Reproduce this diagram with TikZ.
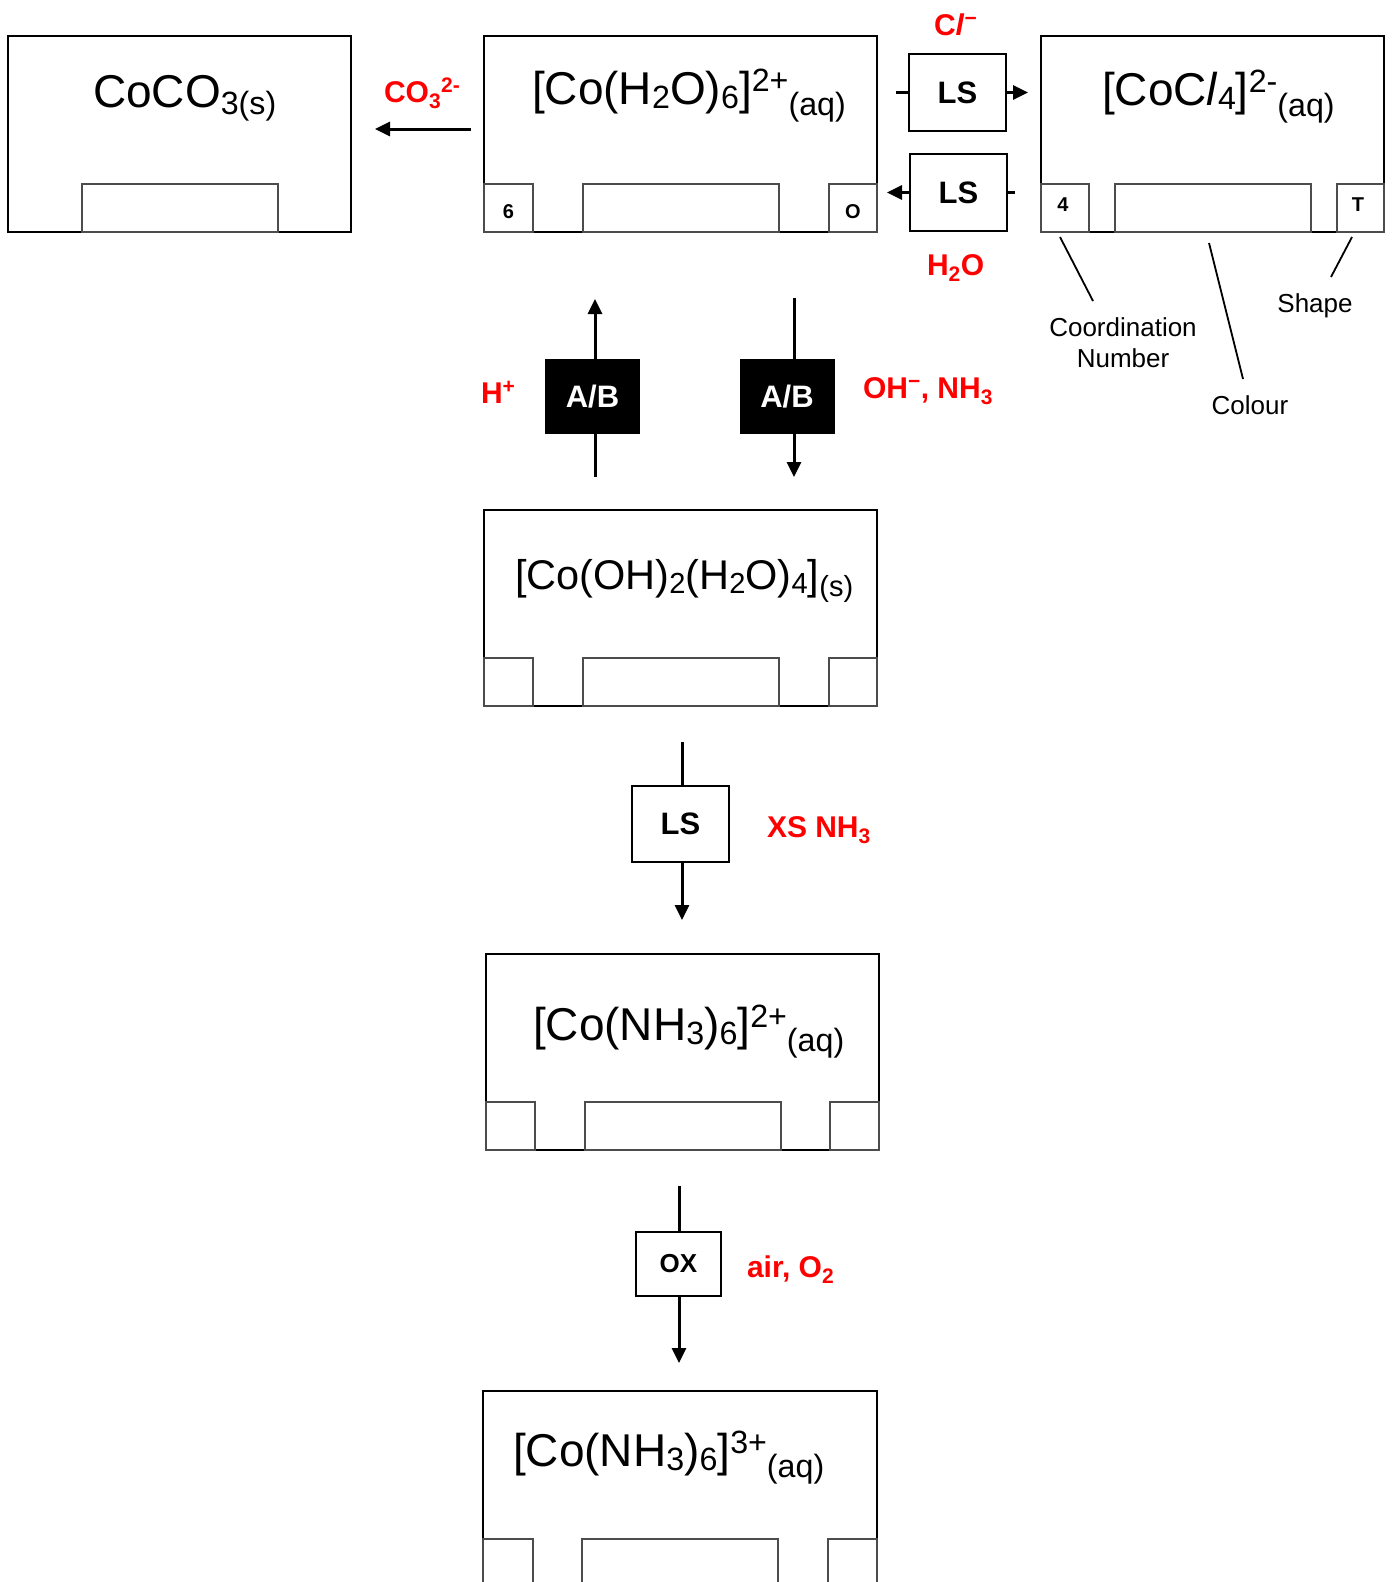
\documentclass[tikz,border=0pt]{standalone}
\usepackage{fontspec}
\setmainfont{Liberation Sans}
\usetikzlibrary{arrows.meta}
\newcommand\sbs[2][0.1]{\raisebox{-#1em}{\scalebox{0.7}{#2}}}
\newcommand\sps[2][0.28]{\raisebox{#1em}{\scalebox{0.7}{#2}}}
\tikzset{
  bigbox/.style={draw=black, line width=1.3pt, inner sep=0pt, outer sep=0pt, minimum height=196pt},
  inbox/.style={draw=black!70, line width=1.3pt, inner sep=0pt, outer sep=0pt, minimum height=48pt},
  formula/.style={inner sep=0pt, outer sep=0pt, font=\fontsize{46}{55}\selectfont},
  redlab/.style={inner sep=0pt, outer sep=0pt, text=red, font=\bfseries\fontsize{30}{36}\selectfont},
  lsbox/.style={draw=black, line width=2pt, inner sep=0pt, outer sep=0pt, fill=white, font=\bfseries\fontsize{31}{36}\selectfont},
  abbox/.style={fill=black, text=white, inner sep=0pt, outer sep=0pt, minimum width=95pt, minimum height=75pt, font=\bfseries\fontsize{31}{36}\selectfont},
  smalllab/.style={inner sep=0pt, outer sep=0pt, font=\bfseries\fontsize{20}{24}\selectfont},
  annot/.style={inner sep=0pt, outer sep=0pt, font=\fontsize{26}{31}\selectfont},
  conn/.style={line width=3pt, draw=black},
  tip/.style={-{Triangle[length=15pt,width=14pt]}},
  leader/.style={line width=1.8pt, draw=black}
}
\begin{document}
\begin{tikzpicture}[x=1pt,y=-1pt]
\clip (0,0) rectangle (1393,1582);
\fill[white] (0,0) rectangle (1393,1582);

% ---- CoCO3 ----
\node[bigbox, minimum width=343pt] (coco3) at (179.5,134) {};
\node[inbox, minimum width=196pt] (coco3c) at (180,208) {};
\node[formula, anchor=base west] (coco3t) at (93,107) {CoCO\sbs[0.17]{3(s)}};

% ---- [Co(H2O)6]2+ ----
\node[bigbox, minimum width=393pt] (h2o) at (680.5,134) {};
\node[inbox, minimum width=49pt] (h2oa) at (508.5,208) {};
\node[inbox, minimum width=196pt] (h2ob) at (681,208) {};
\node[inbox, minimum width=48pt] (h2oc) at (853,208) {};
\node[smalllab] (h2oal) at (508.5,212) {6};
\node[smalllab] (h2ocl) at (853,212) {O};
\node[formula, anchor=base west] (h2ot) at (532,104) {[Co(H\sbs{2}O)\sbs{6}]\sps{2+}\sbs[0.26]{(aq)}};

% ---- [CoCl4]2- ----
\node[bigbox, minimum width=343pt] (cocl4) at (1212.5,134) {};
\node[inbox, minimum width=48pt] (cocl4a) at (1065,208) {};
\node[inbox, minimum width=196pt] (cocl4b) at (1213,208) {};
\node[inbox, minimum width=47pt] (cocl4c) at (1360.5,208) {};
\node[smalllab] (cocl4al) at (1063,205) {4};
\node[smalllab] (cocl4cl) at (1358,205) {T};
\node[formula, anchor=base west] (cocl4t) at (1102,105) {[CoC\textit{l}\sbs{4}]\sps{2-}\sbs[0.26]{(aq)}};

% ---- [Co(OH)2(H2O)4] ----
\node[bigbox, minimum width=393pt] (oh) at (680.5,608) {};
\node[inbox, minimum width=49pt] (oha) at (508.5,682) {};
\node[inbox, minimum width=196pt] (ohb) at (681,682) {};
\node[inbox, minimum width=48pt] (ohc) at (853,682) {};
\node[formula, font=\fontsize{41.5}{50}\selectfont, anchor=base west] (oht) at (515,589) {[Co(OH)\sbs{2}(H\sbs{2}O)\sbs{4}]\sbs[0.18]{(s)}};

% ---- [Co(NH3)6]2+ ----
\node[bigbox, minimum width=393pt] (nha) at (682.5,1052) {};
\node[inbox, minimum width=49pt] (nhaa) at (510.5,1126) {};
\node[inbox, minimum width=196pt] (nhab) at (683,1126) {};
\node[inbox, minimum width=49pt] (nhac) at (854.5,1126) {};
\node[formula, anchor=base west] (nhat) at (533,1040) {[Co(NH\sbs{3})\sbs{6}]\sps{2+}\sbs[0.26]{(aq)}};

% ---- [Co(NH3)6]3+ ----
\node[bigbox, minimum width=394pt] (nhb) at (680,1489) {};
\node[inbox, minimum width=50pt] (nhba) at (508,1563) {};
\node[inbox, minimum width=196pt] (nhbb) at (680,1563) {};
\node[inbox, minimum width=49pt] (nhbc) at (852.5,1563) {};
\node[formula, anchor=base west] (nhbt) at (513,1466) {[Co(NH\sbs{3})\sbs{6}]\sps{3+}\sbs[0.26]{(aq)}};

% ---- CO3 arrow ----
\coordinate (co3s) at (471,129);
\coordinate (co3e) at (375,129);
\draw[conn, tip] (co3s) -- (co3e);
\node[redlab, anchor=base west] (lco3) at (384,102) {CO\textsubscript{3}\textsuperscript{2-}};

% ---- LS (Cl-) ----
\node[lsbox, minimum width=97pt, minimum height=77pt] (ls1) at (957.5,92.5) {LS};
\coordinate (ls1in) at (896,92.5);
\coordinate (ls1out) at (1028,92.5);
\draw[conn] (ls1in) -- (ls1.west);
\draw[conn, tip] (ls1.east) -- (ls1out);
\node[redlab, anchor=base west] (lcl) at (934,35) {C\textit{l}\textsuperscript{−}};

% ---- LS (H2O) ----
\node[lsbox, minimum width=97pt, minimum height=77pt] (ls2) at (958.5,192.5) {LS};
\coordinate (ls2in) at (1015,192.5);
\coordinate (ls2out) at (887,192.5);
\draw[conn] (ls2in) -- (ls2.east);
\draw[conn, tip] (ls2.west) -- (ls2out);
\node[redlab, anchor=base west] (lh2o) at (927,275) {H\textsubscript{2}O};

% ---- A/B up (H+) ----
\node[abbox] (ab1) at (592.5,396.5) {A/B};
\coordinate (ab1in) at (595,477);
\coordinate (ab1out) at (595,299);
\draw[conn] (ab1in) -- (ab1in |- ab1.south);
\draw[conn, tip] (ab1out |- ab1.north) -- (ab1out);
\node[redlab, anchor=base west] (lh) at (481,403) {H\textsuperscript{+}};

% ---- A/B down (OH-, NH3) ----
\node[abbox] (ab2) at (787,396.5) {A/B};
\coordinate (ab2in) at (794,298);
\coordinate (ab2out) at (794,477);
\draw[conn] (ab2in) -- (ab2in |- ab2.north);
\draw[conn, tip] (ab2out |- ab2.south) -- (ab2out);
\node[redlab, anchor=base west] (loh) at (863,398) {OH\textsuperscript{−}, NH\textsubscript{3}};

% ---- LS (XS NH3) ----
\node[lsbox, minimum width=97pt, minimum height=76pt] (ls3) at (680.5,824) {LS};
\coordinate (ls3in) at (682,742);
\coordinate (ls3out) at (682,920);
\draw[conn] (ls3in) -- (ls3in |- ls3.north);
\draw[conn, tip] (ls3out |- ls3.south) -- (ls3out);
\node[redlab, anchor=base west] (lxs) at (767,837) {XS NH\textsubscript{3}};

% ---- OX ----
\node[lsbox, minimum width=85pt, minimum height=64pt, font=\bfseries\fontsize{26}{31}\selectfont] (ox) at (678.5,1264) {OX};
\coordinate (oxin) at (679,1186);
\coordinate (oxout) at (679,1363);
\draw[conn] (oxin) -- (oxin |- ox.north);
\draw[conn, tip] (oxout |- ox.south) -- (oxout);
\node[redlab, anchor=base west] (lair) at (747,1277) {air, O\textsubscript{2}};

% ---- annotations ----
\node[annot, align=center] (tcn) at (1123,342.5) {Coordination\\Number};
\node[annot, anchor=base] (tshape) at (1315,312) {Shape};
\node[annot, anchor=base] (tcol) at (1250,414) {Colour};
\coordinate (lcn1) at (1060,237);
\coordinate (lcn2) at (1093,301);
\coordinate (lcol1) at (1209,243);
\coordinate (lcol2) at (1243,379);
\coordinate (lsh1) at (1352,237);
\coordinate (lsh2) at (1331,277);
\draw[leader] (lcn1) -- (lcn2);
\draw[leader] (lcol1) -- (lcol2);
\draw[leader] (lsh1) -- (lsh2);
\end{tikzpicture}
\end{document}
